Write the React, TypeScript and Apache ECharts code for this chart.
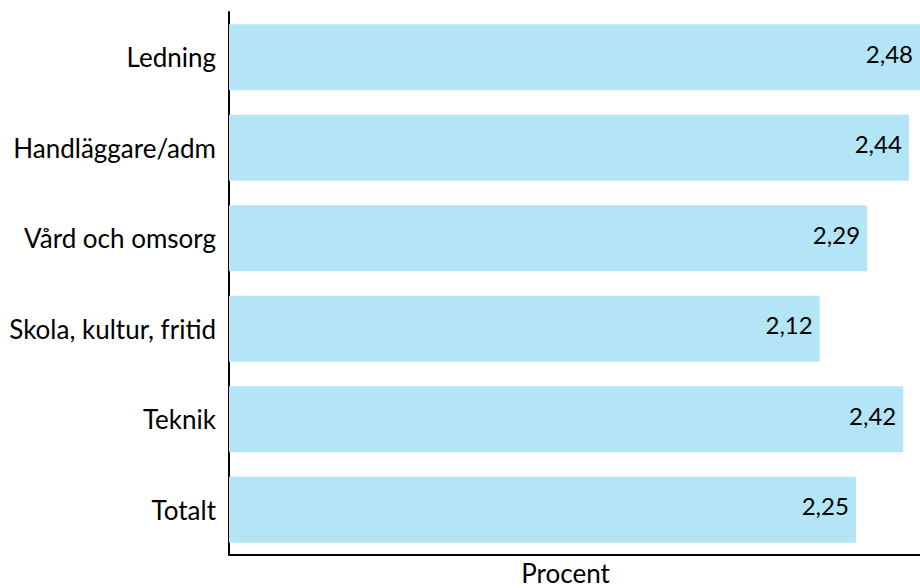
import React, { useEffect, useRef } from "react";
import * as echarts from "echarts";

const categories = [
  "Ledning",
  "Handläggare/adm",
  "Vård och omsorg",
  "Skola, kultur, fritid",
  "Teknik",
  "Totalt",
];
const values = [2.48, 2.44, 2.29, 2.12, 2.42, 2.25];
const axisName = "Procent";

const FONT = "Lato";

export default function App() {
  const ref = useRef<HTMLDivElement>(null);
  useEffect(() => {
    document.body.style.margin = "0";
    if (!ref.current) return;
    const chart = echarts.init(ref.current, undefined, { renderer: "svg" });
    chart.setOption({
      animation: false,
      backgroundColor: "#ffffff",
      grid: {
        left: 229,
        right: 0,
        top: 12,
        bottom: 33,
        containLabel: false,
        outerBoundsMode: "none",
      },
      xAxis: {
        type: "value",
        min: 0,
        max: 2.48,
        name: axisName,
        nameLocation: "middle",
        nameGap: 5,
        nameTextStyle: {
          fontFamily: FONT,
          fontSize: 26,
          color: "#000",
          verticalAlign: "top",
          padding: [0, 18, 0, 0],
        },
        axisLine: { show: true, lineStyle: { color: "#000", width: 2 } },
        axisTick: { show: false },
        axisLabel: { show: false },
        splitLine: { show: false },
      },
      yAxis: {
        type: "category",
        inverse: true,
        data: categories,
        axisLine: { show: true, lineStyle: { color: "#000", width: 2 } },
        axisTick: { show: false },
        axisLabel: {
          fontFamily: FONT,
          fontSize: 26,
          color: "#000",
          margin: 13,
          padding: [8, 0, 0, 0],
        },
      },
      series: [
        {
          type: "bar",
          data: values,
          barCategoryGap: "27%",
          itemStyle: { color: "#b3e5f6" },
          label: {
            show: true,
            position: "insideRight",
            distance: 7,
            offset: [0, -4],
            fontFamily: FONT,
            fontSize: 24,
            color: "#000",
            formatter: (p: any) => String(p.value.toFixed(2)).replace(".", ","),
          },
        },
      ],
    });
    return () => chart.dispose();
  }, []);
  return <div ref={ref} style={{ width: 920, height: 588 }} />;
}
